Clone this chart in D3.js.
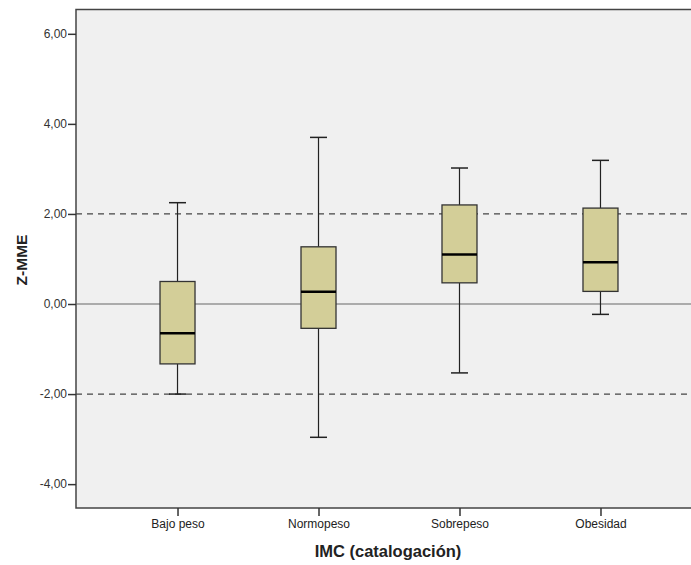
<!DOCTYPE html>
<html><head><meta charset="utf-8">
<script src="https://cdn.jsdelivr.net/npm/d3@7"></script>
<style>body{margin:0;background:#fff;}svg{display:block;font-family:"Liberation Sans",Arial,sans-serif;}</style>
</head><body>
<svg id="c" width="691" height="565"></svg>
<script>
const categories = ["Bajo peso","Normopeso","Sobrepeso","Obesidad"];
const whiskerLow  = [-2.00, -2.96, -1.53, -0.23];
const q1          = [-1.33, -0.54,  0.47,  0.28];
const median      = [-0.65,  0.27,  1.10,  0.93];
const q3          = [ 0.50,  1.27,  2.20,  2.13];
const whiskerHigh = [ 2.25,  3.70,  3.02,  3.19];
const yTicks = [-4, -2, 0, 2, 4, 6];
const refDashed = [-2, 2];
const refSolid = [0];

const svg = d3.select("#c");
const L = 76, T = 9.5, R = 702, B = 508;
const y = d3.scaleLinear().domain([-4.53, 6.54]).range([B, T]);
const x = d3.scalePoint().domain(categories).range([L, R]).padding(0.72);
const fmt = v => (v < 0 ? "-" : "") + Math.abs(v).toFixed(2).replace(".", ",");

svg.append("rect").attr("x", L).attr("y", T).attr("width", R - L).attr("height", B - T)
  .attr("fill", "#f0f0f0").attr("stroke", "#444").attr("stroke-width", 1.5);

// reference lines
svg.selectAll(".dash").data(refDashed).join("line")
  .attr("x1", L).attr("x2", R).attr("y1", d => y(d)).attr("y2", d => y(d))
  .attr("stroke", "#444").attr("stroke-width", 1.2).attr("stroke-dasharray", "6,5");
svg.selectAll(".solid").data(refSolid).join("line")
  .attr("x1", L).attr("x2", R).attr("y1", d => y(d)).attr("y2", d => y(d))
  .attr("stroke", "#666").attr("stroke-width", 1.2);

const data = categories.map((c, i) => ({c, lo: whiskerLow[i], q1: q1[i], med: median[i], q3: q3[i], hi: whiskerHigh[i]}));
const bw = 35, cw = 17;
const g = svg.selectAll(".box").data(data).join("g").attr("transform", d => `translate(${x(d.c)},0)`);
g.append("line").attr("x1", 0).attr("x2", 0).attr("y1", d => y(d.hi)).attr("y2", d => y(d.q3)).attr("stroke", "#222").attr("stroke-width", 1.2);
g.append("line").attr("x1", 0).attr("x2", 0).attr("y1", d => y(d.q1)).attr("y2", d => y(d.lo)).attr("stroke", "#222").attr("stroke-width", 1.2);
g.append("line").attr("x1", -cw/2).attr("x2", cw/2).attr("y1", d => y(d.hi)).attr("y2", d => y(d.hi)).attr("stroke", "#222").attr("stroke-width", 1.5);
g.append("line").attr("x1", -cw/2).attr("x2", cw/2).attr("y1", d => y(d.lo)).attr("y2", d => y(d.lo)).attr("stroke", "#222").attr("stroke-width", 1.5);
g.append("rect").attr("x", -bw/2).attr("width", bw).attr("y", d => y(d.q3)).attr("height", d => y(d.q1) - y(d.q3))
  .attr("fill", "#d3ce98").attr("stroke", "#333").attr("stroke-width", 1.3);
g.append("line").attr("x1", -bw/2).attr("x2", bw/2).attr("y1", d => y(d.med)).attr("y2", d => y(d.med)).attr("stroke", "#000").attr("stroke-width", 2.5);

// axes
const ya = svg.append("g").attr("transform", `translate(${L},0)`)
  .call(d3.axisLeft(y).tickValues(yTicks).tickFormat(fmt).tickSize(8).tickSizeOuter(0));
ya.select(".domain").remove();
ya.selectAll(".tick line").attr("stroke", "#333").attr("stroke-width", 1.5);
ya.selectAll(".tick text").attr("fill", "#333").attr("font-size", 12).attr("x", -9);

const xa = svg.append("g").attr("transform", `translate(0,${B})`)
  .call(d3.axisBottom(x).tickSize(8).tickSizeOuter(0));
xa.select(".domain").remove();
xa.selectAll(".tick line").attr("stroke", "#333").attr("stroke-width", 1.5);
xa.selectAll(".tick text").attr("fill", "#222").attr("font-size", 12).attr("y", 11);

svg.append("text").attr("x", 388).attr("y", 557).attr("text-anchor", "middle")
  .attr("font-size", 16.5).attr("font-weight", "bold").attr("fill", "#222").text("IMC (catalogación)");
svg.append("text").attr("transform", "translate(27,260) rotate(-90)").attr("text-anchor", "middle")
  .attr("font-size", 15.5).attr("font-weight", "bold").attr("fill", "#222").text("Z-MME");
</script>
</body></html>
